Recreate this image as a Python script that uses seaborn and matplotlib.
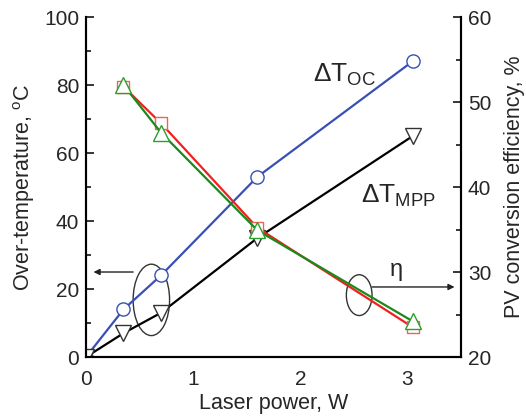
import matplotlib
matplotlib.use('Agg')
import matplotlib.pyplot as plt
from matplotlib.patches import Ellipse
from matplotlib.ticker import MultipleLocator
import pandas as pd
import seaborn as sns

# values
power = [0.0, 0.35, 0.70, 1.6, 3.05]
dT_oc = [0.0, 14.0, 24.0, 53.0, 87.0]
dT_mpp = [0.0, 7.0, 13.0, 35.0, 65.0]

eff_power = [0.35, 0.70, 1.6, 3.05]
eff_red = [51.8, 47.5, 35.2, 23.5]
eff_green = [52.0, 46.4, 34.9, 24.2]

sns.set_style('white')
plt.rcParams['font.family'] = ['Liberation Sans', 'DejaVu Sans']
plt.rcParams['mathtext.fontset'] = 'custom'
plt.rcParams['mathtext.rm'] = 'Liberation Sans'
plt.rcParams['mathtext.it'] = 'Liberation Sans:italic'

temp = pd.DataFrame({'power': power, 'oc': dT_oc, 'mpp': dT_mpp})
eff = pd.DataFrame({'power': eff_power, 'red': eff_red, 'green': eff_green})

fig = plt.figure(figsize=(5.26, 4.16), dpi=100)
ax = fig.add_axes([0.1635, 0.1418, 0.7129, 0.8173])
ax2 = ax.twinx()

# over-temperature curves on the left axis
sns.lineplot(data=temp, x='power', y='oc', ax=ax, color='#3a4fb5', lw=1.6,
             marker='o', markersize=9.5, markerfacecolor='white',
             markeredgecolor='#3a4fb5', markeredgewidth=1.0)
sns.lineplot(data=temp, x='power', y='mpp', ax=ax, color='black', lw=1.6,
             marker='v', markersize=11, markerfacecolor='white',
             markeredgecolor='#333333', markeredgewidth=1.0)

# efficiency curves on the right axis
sns.lineplot(data=eff, x='power', y='red', ax=ax2, color='#f02020', lw=1.6,
             marker='s', markersize=9, markerfacecolor='white',
             markeredgecolor='#f06060', markeredgewidth=1.0)
sns.lineplot(data=eff, x='power', y='green', ax=ax2, color='#1a8a1a', lw=1.6,
             marker='^', markersize=11, markerfacecolor='white',
             markeredgecolor='#2aa02a', markeredgewidth=1.0)

ax.set_xlim(0, 3.5)
ax.set_ylim(0, 100)
ax2.set_ylim(20, 60)
ax.xaxis.set_major_locator(MultipleLocator(1))
ax.xaxis.set_minor_locator(MultipleLocator(0.5))
ax.yaxis.set_major_locator(MultipleLocator(20))
ax.yaxis.set_minor_locator(MultipleLocator(10))
ax2.yaxis.set_major_locator(MultipleLocator(10))
ax2.yaxis.set_minor_locator(MultipleLocator(5))

for a in (ax, ax2):
    a.spines['top'].set_visible(False)
    for s in ('left', 'right', 'bottom'):
        a.spines[s].set_linewidth(1.5)
        a.spines[s].set_color('black')
ax.tick_params(axis='y', which='major', direction='in', length=6, width=1.3,
               labelsize=15, pad=5)
ax.tick_params(axis='y', which='minor', direction='in', length=3.5, width=1.3)
ax.tick_params(axis='x', which='major', direction='out', length=5, width=1.3,
               labelsize=15, pad=4)
ax.tick_params(axis='x', which='minor', direction='out', length=3.5, width=1.3)
ax2.tick_params(axis='y', which='major', direction='in', length=6, width=1.3,
                labelsize=15, pad=5)
ax2.tick_params(axis='y', which='minor', direction='in', length=3.5, width=1.3)

ax.set_xlabel('Laser power, W', fontsize=15.5, labelpad=3)
ax.set_ylabel(r'Over-temperature, $^{\mathrm{o}}$C', fontsize=15.5, labelpad=5)
ax2.set_ylabel('PV conversion efficiency, %', fontsize=15.5, labelpad=9)

# curve labels
ax.text(2.12, 83, r'$\mathrm{\Delta T_{OC}}$', fontsize=19, va='center', ha='left')
ax.text(2.57, 47.5, r'$\mathrm{\Delta T_{MPP}}$', fontsize=19, va='center', ha='left')
ax.text(2.9, 25.5, 'η', fontsize=17, va='center', ha='center')

# ellipses with arrows pointing to the matching axis
ax.add_patch(Ellipse((0.61, 16.8), 0.34, 21, fill=False, ec='#333333', lw=1.0))
ax.annotate('', xy=(0.07, 25), xytext=(0.44, 25),
            arrowprops=dict(arrowstyle='-|>', color='#222222', lw=1.0,
                            mutation_scale=9, shrinkA=0, shrinkB=0))
ax.add_patch(Ellipse((2.55, 18.2), 0.24, 12, fill=False, ec='#333333', lw=1.0))
ax.annotate('', xy=(3.44, 20.6), xytext=(2.67, 20.6),
            arrowprops=dict(arrowstyle='-|>', color='#222222', lw=1.0,
                            mutation_scale=9, shrinkA=0, shrinkB=0))

fig.savefig('out.png', dpi=100)
